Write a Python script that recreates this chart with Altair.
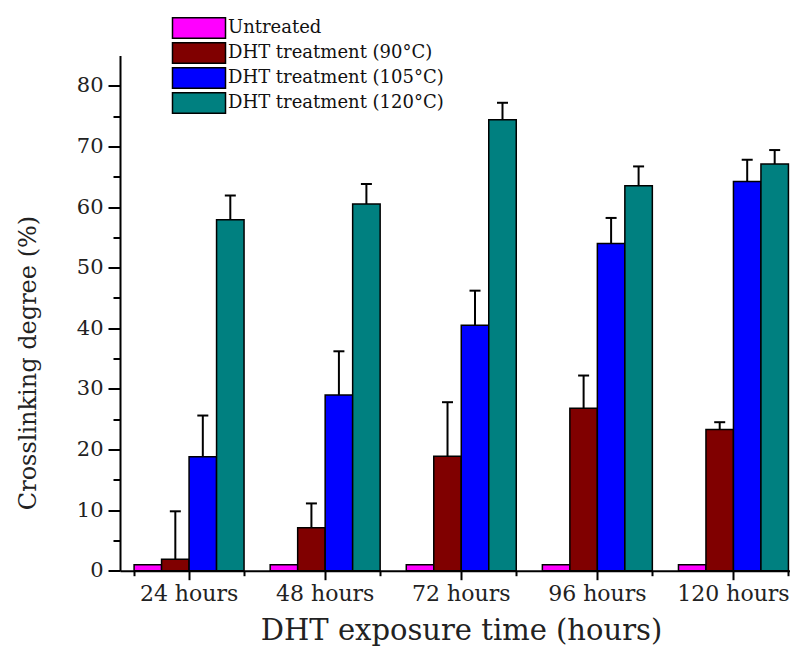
import altair as alt
import pandas as pd

# ---- data ----
times = ["24 hours", "48 hours", "72 hours", "96 hours", "120 hours"]
series = ["Untreated", "DHT treatment (90°C)", "DHT treatment (105°C)", "DHT treatment (120°C)"]
colors = ["#FF00FF", "#800000", "#0000FF", "#008080"]

untreated = [1.0, 1.0, 1.0, 1.0, 1.0]
untreated_upper = [None, None, None, None, None]
dht90 = [1.9, 7.1, 18.9, 26.8, 23.3]
dht90_upper = [9.8, 11.1, 27.8, 32.2, 24.5]
dht105 = [18.8, 29.0, 40.5, 54.0, 64.2]
dht105_upper = [25.6, 36.2, 46.2, 58.2, 67.8]
dht120 = [57.9, 60.5, 74.4, 63.5, 67.1]
dht120_upper = [61.9, 63.8, 77.2, 66.7, 69.4]

y_major_values = [0, 10, 20, 30, 40, 50, 60, 70, 80]
y_minor_values = [5, 15, 25, 35, 45, 55, 65, 75]

vals = [untreated, dht90, dht105, dht120]
uppers = [untreated_upper, dht90_upper, dht105_upper, dht120_upper]
rows = []
for s, v, u in zip(series, vals, uppers):
    for t, vv, uu in zip(times, v, u):
        rows.append({"time": t, "series": s, "value": vv, "upper": uu})
df = pd.DataFrame(rows)

FONT = "DejaVu Serif"
W, H = 670, 515.2

xscale = alt.Scale(domain=times, paddingInner=0.192, paddingOuter=0.0575, align=0.9)
yscale = alt.Scale(domain=[0, 85], nice=False, zero=True)
offscale = alt.Scale(domain=series, paddingInner=0, paddingOuter=0)

x_major = alt.Axis(
    title="DHT exposure time (hours)", orient="bottom", labelAngle=0,
    labelFont=FONT, labelFontSize=22, labelColor="#222222", labelPadding=4,
    tickSize=9, tickWidth=2, tickColor="black", domainColor="black", domainWidth=2,
    titleFont=FONT, titleFontSize=29, titleFontWeight="normal", titleColor="#222222",
    titleX=341, titleY=69, titleBaseline="alphabetic", grid=False,
)
x_minor = alt.Axis(
    title=None, orient="bottom", labels=False, domain=False, tickBand="extent",
    tickSize=5, tickWidth=2, tickColor="black", grid=False,
)
y_major = alt.Axis(
    title="Crosslinking degree (%)", orient="left", values=y_major_values,
    labelFont=FONT, labelFontSize=21, labelColor="#222222", labelPadding=5,
    tickSize=12, tickWidth=2, tickColor="black", domainColor="black", domainWidth=2,
    titleFont=FONT, titleFontSize=24, titleFontWeight="normal", titleColor="#222222",
    titleX=-84.5, titleY=307, titleBaseline="alphabetic", grid=False,
)
y_minor = alt.Axis(
    title=None, orient="left", values=y_minor_values, labels=False, domain=False,
    tickSize=7, tickWidth=2, tickColor="black", grid=False,
)

base = alt.Chart(df)

minor = base.mark_point(opacity=0).encode(
    x=alt.X("time:N", sort=times, scale=xscale, axis=x_minor),
    y=alt.Y("value:Q", scale=yscale, axis=y_minor),
)

bars = base.mark_bar(stroke="black", strokeWidth=1.5, opacity=1).encode(
    x=alt.X("time:N", sort=times, scale=xscale, axis=x_major),
    xOffset=alt.XOffset("series:N", sort=series, scale=offscale),
    y=alt.Y("value:Q", scale=yscale, axis=y_major),
    color=alt.Color(
        "series:N", sort=series,
        scale=alt.Scale(domain=series, range=colors),
        legend=alt.Legend(
            title=None, orient="none", legendX=68, legendY=-38.5,
            symbolType="M-2.65,-1.02H2.65V1.02H-2.65Z", symbolSize=400,
            symbolStrokeColor="black", symbolStrokeWidth=1.5, symbolOpacity=1,
            labelFont=FONT, labelFontSize=18, labelColor="#111111",
            labelOffset=18, rowPadding=-5, padding=0, labelLimit=400,
        ),
    ),
)

err = base.transform_filter("isValid(datum.upper)")

stems = err.mark_rule(color="black", strokeWidth=2).encode(
    x=alt.X("time:N", sort=times, scale=xscale, axis=None),
    xOffset=alt.XOffset("series:N", sort=series, scale=offscale),
    y=alt.Y("value:Q", scale=yscale, axis=None),
    y2="upper:Q",
)

caps = err.mark_tick(color="black", thickness=2, size=11, opacity=1).encode(
    x=alt.X("time:N", sort=times, scale=xscale, axis=None),
    xOffset=alt.XOffset("series:N", sort=series, scale=offscale),
    y=alt.Y("upper:Q", scale=yscale, axis=None),
)

chart = (
    alt.layer(minor, bars, stems, caps)
    .resolve_axis(x="independent", y="independent")
    .properties(
        width=W, height=H,
        autosize=alt.AutoSizeParams(type="none"),
        padding={"left": 120, "top": 55.5, "right": 0, "bottom": 76.3},
        background="white",
    )
    .configure_view(stroke=None)
)

chart.save("out.html", embed_options={"renderer": "svg", "actions": False})
